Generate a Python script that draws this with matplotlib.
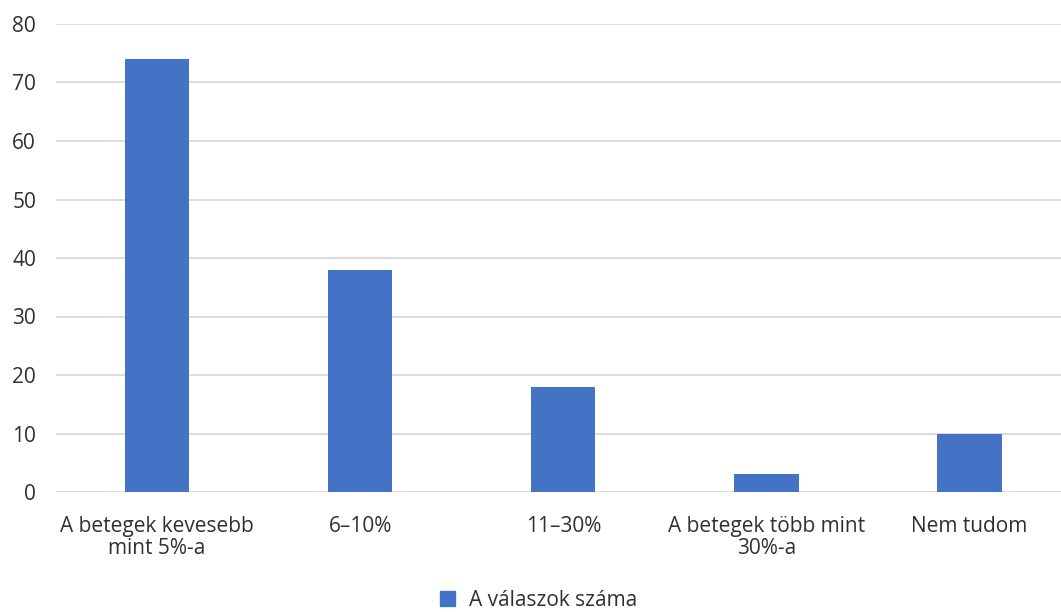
import matplotlib
matplotlib.use("Agg")
import matplotlib.pyplot as plt
from matplotlib.patches import Patch

categories = ["A betegek kevesebb\nmint 5%-a", "6–10%", "11–30%",
              "A betegek több mint\n30%-a", "Nem tudom"]
values = [74, 38, 18, 3, 10]
series_name = "A válaszok száma"
yticks = [0, 10, 20, 30, 40, 50, 60, 70, 80]

bar_color = "#4472C4"
text_color = "#303030"
grid_color = "#D9D9D9"

plt.rcParams["font.family"] = ["Open Sans", "DejaVu Sans"]

W, H = 1061, 612
fig = plt.figure(figsize=(W / 100, H / 100), dpi=100)
ax = fig.add_axes([55.5 / W, 120 / H, 1015.5 / W, 468 / H])

x = list(range(len(categories)))
ax.bar(x, values, width=0.317, color=bar_color, zorder=3)

ax.set_xlim(-0.5, len(categories) - 0.5)
ax.set_ylim(0, 80)
ax.set_yticks(yticks)
ax.set_xticks(x)
ax.set_xticklabels(categories, linespacing=1.1)
ax.tick_params(axis="both", length=0, labelsize=15, colors=text_color)
ax.tick_params(axis="x", pad=17)
ax.tick_params(axis="y", pad=14)
for lab in ax.get_yticklabels():
    lab.set_horizontalalignment("right")

ax.grid(axis="y", color=grid_color, linewidth=1.3, zorder=0)
for s in ax.spines.values():
    s.set_visible(False)

fig.legend(handles=[Patch(color=bar_color, label=series_name)],
           loc="center", bbox_to_anchor=(539 / W, 1 - 600 / H),
           frameon=False, fontsize=15, handlelength=0.7, handleheight=0.7,
           handletextpad=0.7, labelcolor=text_color)

fig.savefig("out.png", dpi=100)
